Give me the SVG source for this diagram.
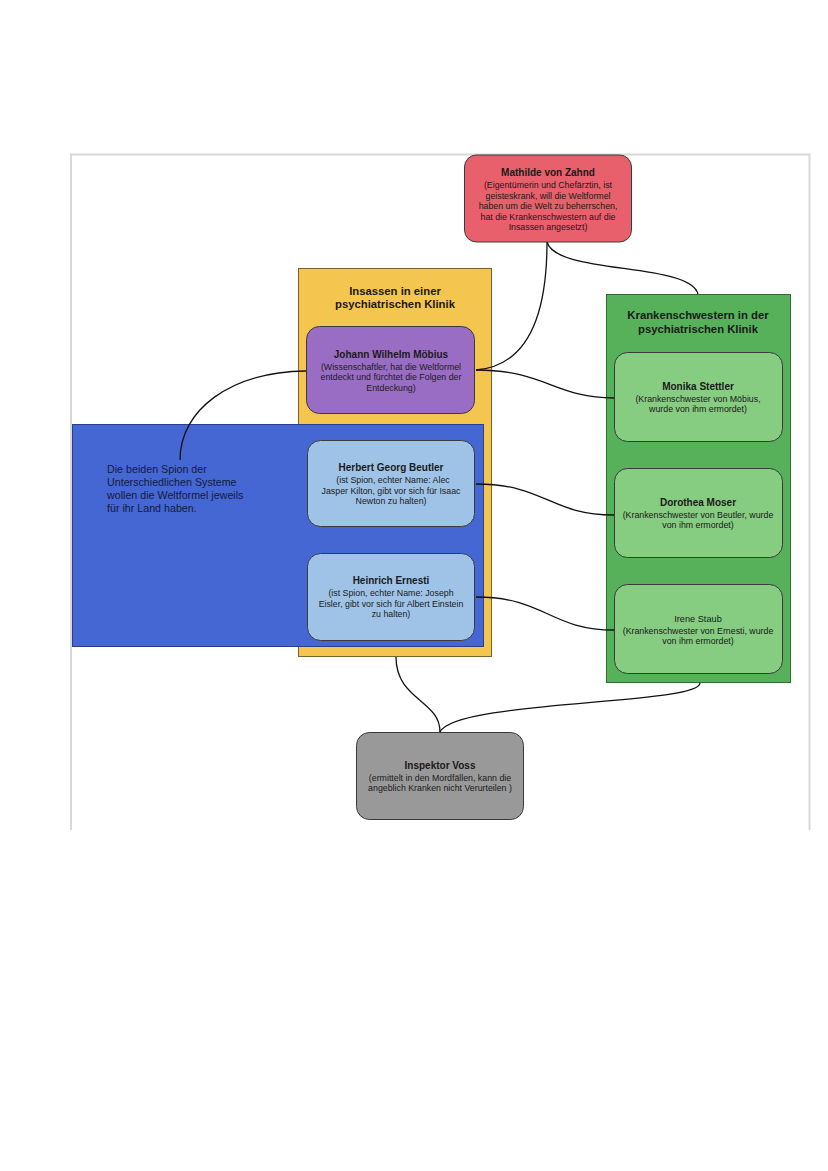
<svg xmlns="http://www.w3.org/2000/svg" width="828" height="1171" viewBox="0 0 828 1171">
<style>
text{font-family:"Liberation Sans",Arial,sans-serif;fill:#1a1a1a;text-anchor:middle}
.t{font-size:10px;font-weight:bold}
.b{font-size:8.8px}
.h{font-size:11.3px;font-weight:bold}
.c{fill:none;stroke:#111;stroke-width:1.3}
.n{stroke:#3a3a3a;stroke-width:1}
.s{font-size:10.7px;text-anchor:start;fill:#141a3c}
</style>
<rect width="828" height="1171" fill="#fff"/>
<path d="M71,830 V154.5 H809.5 V830" fill="none" stroke="#d8d8d8" stroke-width="2"/>
<g id="insassen">
<rect x="298.5" y="268.5" width="193" height="388" fill="#f5c64f" stroke="#7a6230"/>
<text class="h" x="395" y="295">Insassen in einer</text>
<text class="h" x="395" y="308">psychiatrischen Klinik</text>
</g>
<g id="spione">
<rect x="72.5" y="424.5" width="411" height="222" fill="#4567d4" stroke="#2a3f8a"/>
<text class="s" x="107" y="473">Die beiden Spion der</text>
<text class="s" x="107" y="486">Unterschiedlichen Systeme</text>
<text class="s" x="107" y="499">wollen die Weltformel jeweils</text>
<text class="s" x="107" y="512">für ihr Land haben.</text>
</g>
<g id="schwestern">
<rect x="606.5" y="294.5" width="184" height="388" fill="#56b15a" stroke="#2f6e33"/>
<text class="h" x="698" y="319">Krankenschwestern in der</text>
<text class="h" x="698" y="333">psychiatrischen Klinik</text>
</g>
<g id="connectors">
<path class="c" d="M547,242 C547,320 525,366 476,370"/>
<path class="c" d="M547,242 C556,275 690,262 698,294"/>
<path class="c" d="M476,370 C545,370 555,398 614,398"/>
<path class="c" d="M306,371 C230,372 180,410 180,460"/>
<path class="c" d="M476,484 C545,484 550,515 614,515"/>
<path class="c" d="M476,597 C545,597 550,630 614,630"/>
<path class="c" d="M396,657 C396,700 440,700 440,732"/>
<path class="c" d="M700,683 C700,705 455,700 440,732"/>
</g>
<g id="mathilde">
<rect x="464.5" y="155" width="167" height="87" rx="12" fill="#e8606b" class="n"/>
<text class="t" x="548" y="176">Mathilde von Zahnd</text>
<text class="b" x="548" y="188">(Eigentümerin und Chefärztin, ist</text>
<text class="b" x="548" y="198.5">geisteskrank, will die Weltformel</text>
<text class="b" x="548" y="209">haben um die Welt zu beherrschen,</text>
<text class="b" x="548" y="219.5">hat die Krankenschwestern auf die</text>
<text class="b" x="548" y="230">Insassen angesetzt)</text>
</g>
<g id="moebius">
<rect x="306.5" y="326.5" width="168" height="87" rx="13" fill="#9a6dc4" class="n"/>
<text class="t" x="391" y="358">Johann Wilhelm Möbius</text>
<text class="b" x="391" y="369.5">(Wissenschaftler, hat die Weltformel</text>
<text class="b" x="391" y="380">entdeckt und fürchtet die Folgen der</text>
<text class="b" x="391" y="390.5">Entdeckung)</text>
</g>
<g id="beutler">
<rect x="307.5" y="440.5" width="167" height="86" rx="13" fill="#9fc3e7" class="n"/>
<text class="t" x="391" y="471">Herbert Georg Beutler</text>
<text class="b" x="393" y="483">(ist Spion, echter Name: Alec</text>
<text class="b" x="391" y="493.5">Jasper Kilton, gibt vor sich für Isaac</text>
<text class="b" x="391" y="504">Newton zu halten)</text>
</g>
<g id="ernesti">
<rect x="307.5" y="553.5" width="167" height="87" rx="13" fill="#9fc3e7" class="n"/>
<text class="t" x="391" y="584">Heinrich Ernesti</text>
<text class="b" x="391" y="596">(ist Spion, echter Name: Joseph</text>
<text class="b" x="391" y="606.5">Eisler, gibt vor sich für Albert Einstein</text>
<text class="b" x="391" y="617">zu halten)</text>
</g>
<g id="stettler">
<rect x="614.5" y="352.5" width="168" height="89" rx="13" fill="#86cc81" class="n"/>
<text class="t" x="698" y="390">Monika Stettler</text>
<text class="b" x="698" y="401.5">(Krankenschwester von Möbius,</text>
<text class="b" x="698" y="412">wurde von ihm ermordet)</text>
</g>
<g id="moser">
<rect x="614.5" y="468.5" width="168" height="89" rx="13" fill="#86cc81" class="n"/>
<text class="t" x="698" y="506">Dorothea Moser</text>
<text class="b" x="698" y="517.5">(Krankenschwester von Beutler, wurde</text>
<text class="b" x="698" y="528">von ihm ermordet)</text>
</g>
<g id="staub">
<rect x="614.5" y="584.5" width="168" height="89" rx="13" fill="#86cc81" class="n"/>
<text class="b" x="698" y="622" style="font-size:9.2px">Irene Staub</text>
<text class="b" x="698" y="633.5">(Krankenschwester von Ernesti, wurde</text>
<text class="b" x="698" y="644">von ihm ermordet)</text>
</g>
<g id="voss">
<rect x="356.5" y="732.5" width="167" height="87" rx="13" fill="#999999" class="n"/>
<text class="t" x="440" y="769">Inspektor Voss</text>
<text class="b" x="440" y="780.5">(ermittelt in den Mordfällen, kann die</text>
<text class="b" x="440" y="791">angeblich Kranken nicht Verurteilen )</text>
</g>
</svg>
